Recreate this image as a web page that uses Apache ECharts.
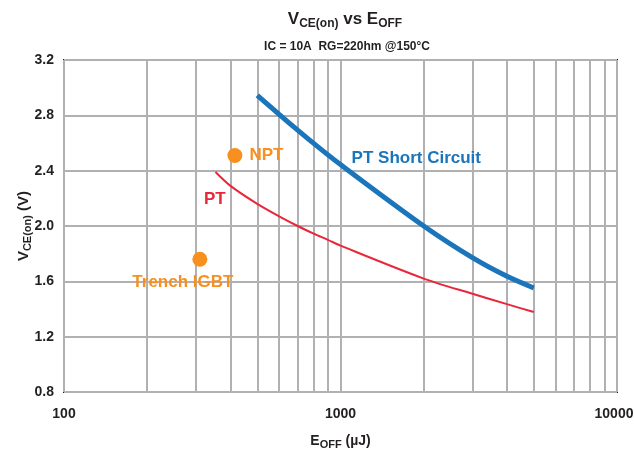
<!DOCTYPE html>
<html>
<head>
<meta charset="utf-8">
<script src="https://cdn.jsdelivr.net/npm/echarts@6/dist/echarts.min.js"></script>
<style>
  html, body { margin: 0; padding: 0; background: #fff; }
  #chart { width: 634px; height: 450px; }
</style>
</head>
<body>
<div id="chart"></div>
<script>
// E_OFF (uJ) vs V_CE(on) (V)
const ptShortEoff = [500, 600, 700, 800, 1000, 2000, 3000, 4000, 5000]
const ptShortVce = [2.945, 2.807, 2.693, 2.597, 2.444, 2.0, 1.771, 1.636, 1.552]

const ptEoff = [353, 400, 500, 600, 700, 800, 900, 1000, 2000, 3000, 4000, 5000]
const ptVce = [2.39, 2.29, 2.16, 2.07, 2.0, 1.945, 1.90, 1.858, 1.62, 1.51, 1.435, 1.378]

const npt = [415, 2.51]
const trench = [310, 1.76]

const minorGridX = [200, 300, 400, 500, 600, 700, 800, 900, 2000, 3000, 4000, 5000, 6000, 7000, 8000, 9000]

const FONT = '"Liberation Sans Narrow", "Arial Narrow", "Liberation Sans", sans-serif'
const INK = '#231f20'
const ORANGE = '#f7901e'
const RED = '#e8283a'
const BLUE = '#1b75bb'
const GRID = '#b1b1b3'

const chart = echarts.init(document.getElementById('chart'))

const tickFont = { fontFamily: FONT, fontSize: 14, fontWeight: 'bold', color: INK }

chart.setOption({
  animation: false,
  textStyle: { fontFamily: FONT },
  title: [
    {
      text: '{a|V}{s|CE(on)}{a| vs E}{s|OFF}',
      left: 340,
      top: 4,
      textAlign: 'center',
      textStyle: {
        rich: {
          a: { fontFamily: FONT, fontSize: 17, fontWeight: 'bold', color: INK },
          s: { fontFamily: FONT, fontSize: 12, fontWeight: 'bold', color: INK, padding: [9, 0, 0, 0] }
        }
      }
    },
    {
      text: 'IC = 10A  RG=220hm @150°C',
      left: 342,
      top: 36,
      textAlign: 'center',
      textStyle: { fontFamily: FONT, fontSize: 12, fontWeight: 'bold', color: INK }
    }
  ],
  grid: {
    left: 64, right: 17, top: 60, bottom: 58,
    outerBoundsMode: 'none',
    show: true, borderColor: INK, borderWidth: 2
  },
  xAxis: {
    type: 'log',
    logBase: 10,
    min: 100,
    max: 10000,
    axisLine: { show: false },
    axisTick: { show: false },
    splitLine: { show: true, lineStyle: { color: GRID, width: 2 } },
    axisLabel: {
      ...tickFont,
      margin: 15,
      formatter: v => (v >= 10000 ? '{e|' + Math.round(v) + '}' : String(Math.round(v))),
      rich: { e: { ...tickFont, padding: [0, 6, 0, 0] } }
    },
    name: '{a|E}{s|OFF}{a| (µJ)}',
    nameLocation: 'middle',
    nameGap: 40,
    nameMoveOverlap: false,
    nameTextStyle: {
      rich: {
        a: { fontFamily: FONT, fontSize: 14, fontWeight: 'bold', color: INK },
        s: { fontFamily: FONT, fontSize: 11, fontWeight: 'bold', color: INK, padding: [7, 0, 0, 0] }
      }
    }
  },
  yAxis: {
    type: 'value',
    min: 0.8,
    max: 3.2,
    interval: 0.4,
    axisLine: { show: false },
    axisTick: { show: false },
    splitLine: { show: true, lineStyle: { color: GRID, width: 2 } },
    axisLabel: {
      ...tickFont,
      margin: 10,
      formatter: v => v.toFixed(1)
    },
    name: '{a|V}{s|CE(on)}{a| (V)}',
    nameLocation: 'middle',
    nameGap: 31,
    nameMoveOverlap: false,
    nameTextStyle: {
      rich: {
        a: { fontFamily: FONT, fontSize: 15, fontWeight: 'bold', color: INK },
        s: { fontFamily: FONT, fontSize: 11, fontWeight: 'bold', color: INK, padding: [7, 0, 0, 0] }
      }
    }
  },
  series: [
    {
      name: 'grid',
      type: 'line',
      data: [],
      silent: true,
      z: 0,
      markLine: {
        z: 0,
        silent: true,
        symbol: 'none',
        label: { show: false },
        lineStyle: { color: GRID, width: 2, type: 'solid' },
        data: minorGridX.map(x => ({ xAxis: x }))
      }
    },
    {
      name: 'PT',
      type: 'line',
      z: 3,
      smooth: 0.3,
      symbol: 'none',
      lineStyle: { color: RED, width: 2 },
      data: ptEoff.map((x, i) => [x, ptVce[i]]),
      markPoint: {
        symbolSize: 0,
        data: [{ coord: [351, 2.195], value: 'PT' }],
        label: { show: true, formatter: 'PT', color: RED, fontFamily: FONT, fontSize: 17, fontWeight: 'bold' }
      }
    },
    {
      name: 'PT Short Circuit',
      type: 'line',
      z: 3,
      smooth: 0.3,
      symbol: 'none',
      lineStyle: { color: BLUE, width: 5 },
      data: ptShortEoff.map((x, i) => [x, ptShortVce[i]]),
      markPoint: {
        symbolSize: 0,
        data: [{ coord: [1880, 2.49], value: 'PT Short Circuit' }],
        label: { show: true, formatter: 'PT Short Circuit', color: BLUE, fontFamily: FONT, fontSize: 17, fontWeight: 'bold' }
      }
    },
    {
      name: 'NPT',
      type: 'scatter',
      z: 3,
      symbolSize: 15,
      itemStyle: { color: ORANGE, opacity: 1 },
      data: [npt],
      label: { show: true, position: 'right', distance: 7, formatter: 'NPT', color: ORANGE, fontFamily: FONT, fontSize: 17, fontWeight: 'bold' }
    },
    {
      name: 'Trench IGBT',
      type: 'scatter',
      z: 3,
      symbolSize: 15,
      itemStyle: { color: ORANGE, opacity: 1 },
      data: [trench],
      label: { show: true, position: 'bottom', distance: 7, formatter: 'Trench IGBT', color: ORANGE, fontFamily: FONT, fontSize: 17, fontWeight: 'bold', offset: [-17, 0] }
    }
  ]
})
</script>
</body>
</html>
